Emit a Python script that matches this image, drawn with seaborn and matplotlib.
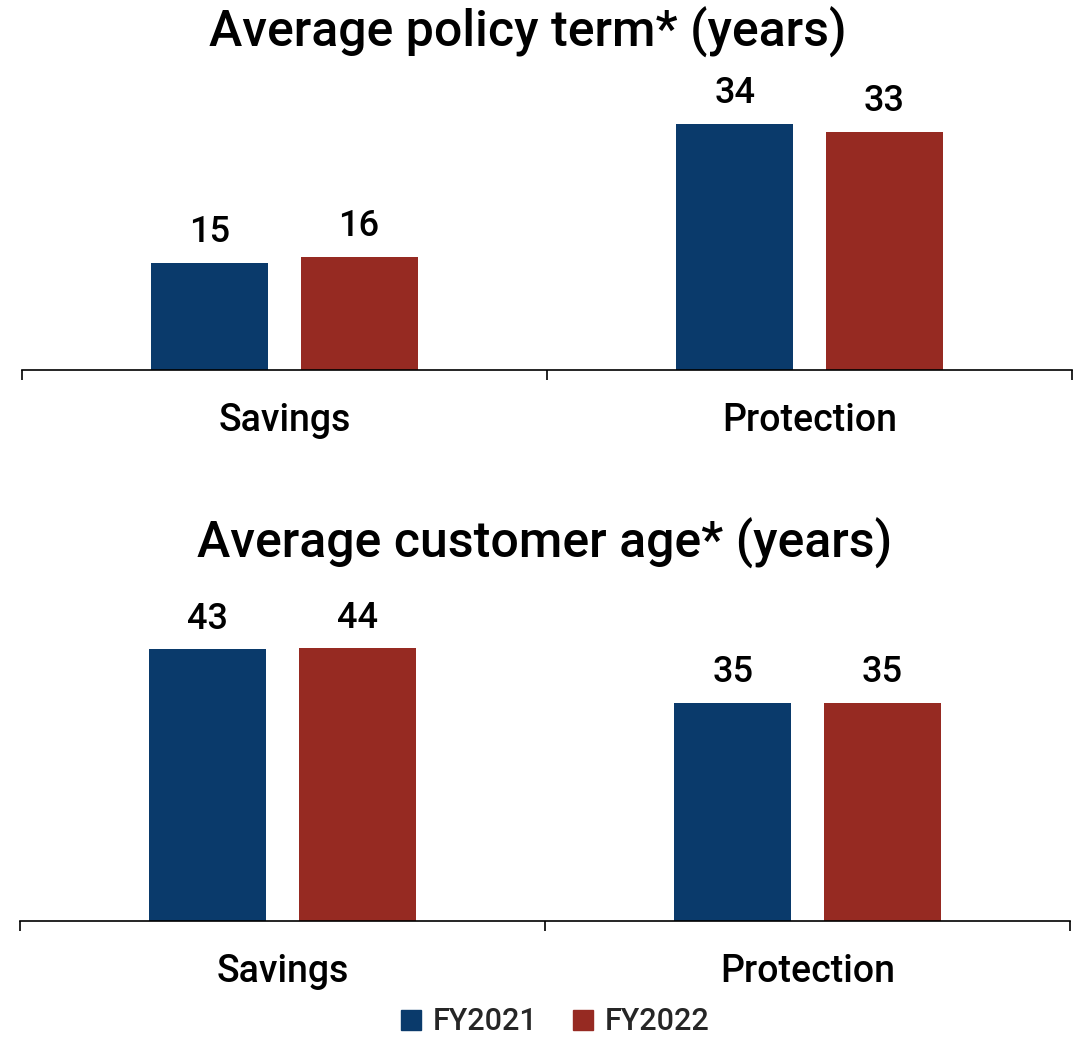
import matplotlib
matplotlib.use("Agg")
import matplotlib.pyplot as plt
import seaborn as sns
import pandas as pd
from matplotlib.lines import Line2D

categories = ["Savings", "Protection"]
years = ["FY2021", "FY2022"]
term_fy2021 = [14.9, 34.2]
term_fy2022 = [15.7, 33.1]
age_fy2021 = [43.4, 34.9]
age_fy2022 = [43.6, 34.9]
titles = ["Average policy term* (years)", "Average customer age* (years)"]
colors = ["#0a3a6b", "#962a22"]

sns.set_theme(style="white")
plt.rcParams["font.family"] = ["Roboto", "Liberation Sans", "DejaVu Sans"]
plt.rcParams["font.weight"] = 500

def frame(a, b):
    return pd.DataFrame({
        "category": categories * 2,
        "year": [years[0]] * 2 + [years[1]] * 2,
        "value": list(a) + list(b),
    })

fig = plt.figure(figsize=(10.84, 10.37), dpi=100)
W, H = 1084, 1037
ax1 = fig.add_axes([22 / W, 1 - 370 / H, 1050 / W, 288 / H])
ax2 = fig.add_axes([20 / W, 1 - 921 / H, 1050 / W, 313 / H])

for ax, df, ymax in [(ax1, frame(term_fy2021, term_fy2022), 40),
                     (ax2, frame(age_fy2021, age_fy2022), 50)]:
    sns.barplot(data=df, x="category", y="value", hue="year", order=categories,
                hue_order=years, palette=colors, width=0.568, gap=0.215,
                saturation=1, linewidth=0, ax=ax, legend=False)
    for c in ax.containers:
        ax.bar_label(c, fmt="%.0f", padding=9, fontsize=26, color="black")
    ax.set_xlim(-0.5, 1.5)
    ax.set_ylim(0, ymax)
    ax.set_xlabel("")
    ax.set_ylabel("")
    ax.set_yticks([])
    for s in ["top", "left", "right"]:
        ax.spines[s].set_visible(False)
    ax.spines["bottom"].set_color("black")
    ax.spines["bottom"].set_linewidth(1.2)
    ax.set_xticks([-0.5, 0.5, 1.5], minor=True)
    ax.tick_params(axis="x", which="minor", length=7, width=1.2, color="black", direction="out", bottom=True)
    ax.tick_params(axis="x", which="major", length=0, pad=23, labelsize=27, labelcolor="black")

fig.text(0.487, 1 - 32 / H, titles[0], ha="center", va="center", fontsize=36, color="black")
fig.text(0.502, 1 - 543 / H, titles[1], ha="center", va="center", fontsize=36, color="black")

handles = [Line2D([0], [0], marker="s", linestyle="", markersize=15,
                  markerfacecolor=col, markeredgecolor=col) for col in colors]
fig.legend(handles, years, loc="center", bbox_to_anchor=(0.51, 1 - 1022 / H),
           ncol=2, frameon=False, fontsize=22, handletextpad=0.2, columnspacing=1.0,
           handlelength=1.0)

fig.savefig("out.png", dpi=100)
